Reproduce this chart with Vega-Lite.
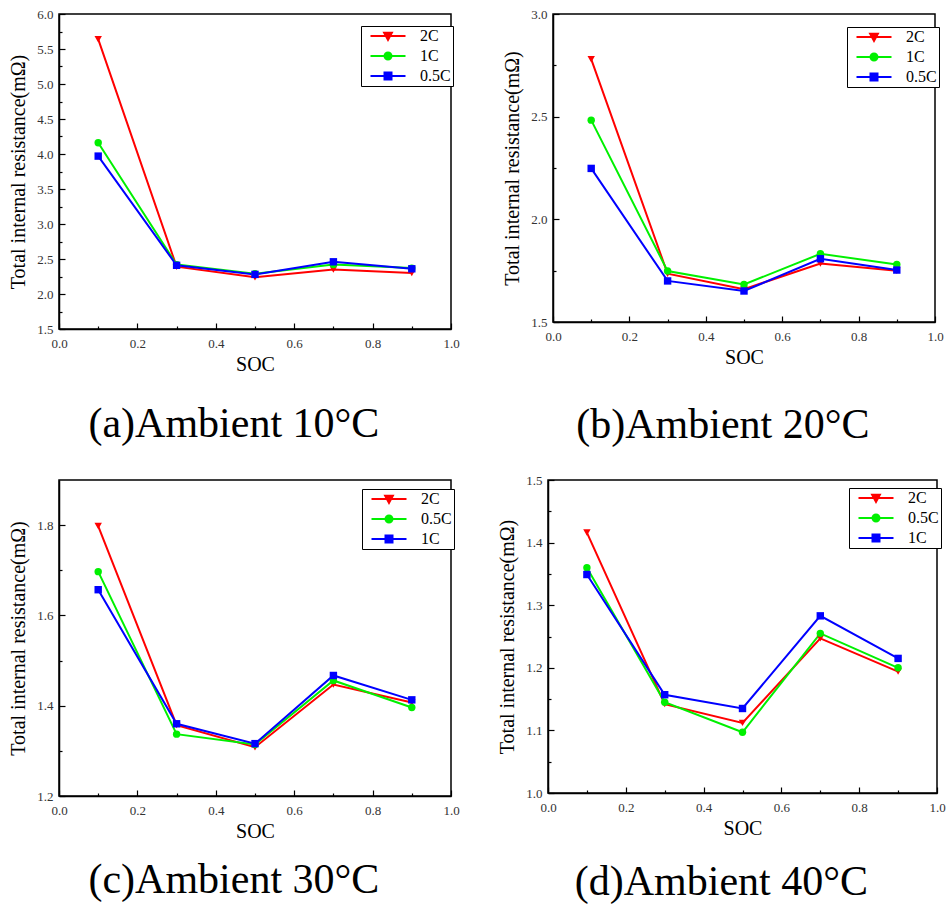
{
  "$schema": "https://vega.github.io/schema/vega-lite/v6.json",
  "padding": {"left": 8, "top": 7, "right": 0, "bottom": 0},
  "background": "white",
  "config": {
    "view": {"stroke": "black", "strokeWidth": 1.5},
    "style": {
      "guide-label": {"font": "Liberation Serif", "fontSize": 13, "fill": "#333333"},
      "guide-title": {"font": "Liberation Serif", "fontSize": 20, "fontWeight": "normal", "fill": "black"}
    },
    "axis": {"grid": false, "domainColor": "black", "domainWidth": 1.5, "tickColor": "black", "tickWidth": 1.2, "labelFont": "Liberation Serif", "labelFontSize": 13, "labelColor": "#333333", "labelFlush": false, "labelOverlap": false, "titleFont": "Liberation Serif", "titleFontSize": 20, "titleFontWeight": "normal", "titleColor": "black"},
    "legend": {"labelFont": "Liberation Serif", "labelFontSize": 16, "labelColor": "black", "symbolSize": 49, "symbolStrokeWidth": 2, "strokeColor": "black", "fillColor": "white", "padding": 2, "rowPadding": 4, "symbolOffset": 17, "labelOffset": 24},
    "title": {"font": "Liberation Serif", "fontSize": 42, "fontWeight": "normal", "color": "black"}
  },
  "data": {"values": [
    {"panel": "a", "rate": "2C", "soc": 0.1, "r": 5.64},
    {"panel": "a", "rate": "2C", "soc": 0.3, "r": 2.39},
    {"panel": "a", "rate": "2C", "soc": 0.5, "r": 2.24},
    {"panel": "a", "rate": "2C", "soc": 0.7, "r": 2.35},
    {"panel": "a", "rate": "2C", "soc": 0.9, "r": 2.30},
    {"panel": "a", "rate": "1C", "soc": 0.1, "r": 4.16},
    {"panel": "a", "rate": "1C", "soc": 0.3, "r": 2.42},
    {"panel": "a", "rate": "1C", "soc": 0.5, "r": 2.29},
    {"panel": "a", "rate": "1C", "soc": 0.7, "r": 2.42},
    {"panel": "a", "rate": "1C", "soc": 0.9, "r": 2.37},
    {"panel": "a", "rate": "0.5C", "soc": 0.1, "r": 3.97},
    {"panel": "a", "rate": "0.5C", "soc": 0.3, "r": 2.41},
    {"panel": "a", "rate": "0.5C", "soc": 0.5, "r": 2.28},
    {"panel": "a", "rate": "0.5C", "soc": 0.7, "r": 2.46},
    {"panel": "a", "rate": "0.5C", "soc": 0.9, "r": 2.36},
    {"panel": "b", "rate": "2C", "soc": 0.1, "r": 2.78},
    {"panel": "b", "rate": "2C", "soc": 0.3, "r": 1.735},
    {"panel": "b", "rate": "2C", "soc": 0.5, "r": 1.66},
    {"panel": "b", "rate": "2C", "soc": 0.7, "r": 1.785},
    {"panel": "b", "rate": "2C", "soc": 0.9, "r": 1.75},
    {"panel": "b", "rate": "1C", "soc": 0.1, "r": 2.483},
    {"panel": "b", "rate": "1C", "soc": 0.3, "r": 1.748},
    {"panel": "b", "rate": "1C", "soc": 0.5, "r": 1.683},
    {"panel": "b", "rate": "1C", "soc": 0.7, "r": 1.832},
    {"panel": "b", "rate": "1C", "soc": 0.9, "r": 1.78},
    {"panel": "b", "rate": "0.5C", "soc": 0.1, "r": 2.248},
    {"panel": "b", "rate": "0.5C", "soc": 0.3, "r": 1.70},
    {"panel": "b", "rate": "0.5C", "soc": 0.5, "r": 1.651},
    {"panel": "b", "rate": "0.5C", "soc": 0.7, "r": 1.808},
    {"panel": "b", "rate": "0.5C", "soc": 0.9, "r": 1.753},
    {"panel": "c", "rate": "2C", "soc": 0.1, "r": 1.798},
    {"panel": "c", "rate": "2C", "soc": 0.3, "r": 1.357},
    {"panel": "c", "rate": "2C", "soc": 0.5, "r": 1.308},
    {"panel": "c", "rate": "2C", "soc": 0.7, "r": 1.447},
    {"panel": "c", "rate": "2C", "soc": 0.9, "r": 1.407},
    {"panel": "c", "rate": "0.5C", "soc": 0.1, "r": 1.697},
    {"panel": "c", "rate": "0.5C", "soc": 0.3, "r": 1.337},
    {"panel": "c", "rate": "0.5C", "soc": 0.5, "r": 1.314},
    {"panel": "c", "rate": "0.5C", "soc": 0.7, "r": 1.456},
    {"panel": "c", "rate": "0.5C", "soc": 0.9, "r": 1.396},
    {"panel": "c", "rate": "1C", "soc": 0.1, "r": 1.657},
    {"panel": "c", "rate": "1C", "soc": 0.3, "r": 1.36},
    {"panel": "c", "rate": "1C", "soc": 0.5, "r": 1.316},
    {"panel": "c", "rate": "1C", "soc": 0.7, "r": 1.467},
    {"panel": "c", "rate": "1C", "soc": 0.9, "r": 1.413},
    {"panel": "d", "rate": "2C", "soc": 0.1, "r": 1.416},
    {"panel": "d", "rate": "2C", "soc": 0.3, "r": 1.142},
    {"panel": "d", "rate": "2C", "soc": 0.5, "r": 1.112},
    {"panel": "d", "rate": "2C", "soc": 0.7, "r": 1.247},
    {"panel": "d", "rate": "2C", "soc": 0.9, "r": 1.194},
    {"panel": "d", "rate": "0.5C", "soc": 0.1, "r": 1.36},
    {"panel": "d", "rate": "0.5C", "soc": 0.3, "r": 1.145},
    {"panel": "d", "rate": "0.5C", "soc": 0.5, "r": 1.097},
    {"panel": "d", "rate": "0.5C", "soc": 0.7, "r": 1.255},
    {"panel": "d", "rate": "0.5C", "soc": 0.9, "r": 1.20},
    {"panel": "d", "rate": "1C", "soc": 0.1, "r": 1.349},
    {"panel": "d", "rate": "1C", "soc": 0.3, "r": 1.157},
    {"panel": "d", "rate": "1C", "soc": 0.5, "r": 1.135},
    {"panel": "d", "rate": "1C", "soc": 0.7, "r": 1.283},
    {"panel": "d", "rate": "1C", "soc": 0.9, "r": 1.215}
  ]},
  "vconcat": [
    {
      "hconcat": [
        {
          "width": 392, "height": 315,
          "title": {"text": "(a)Ambient 10°C", "orient": "bottom", "anchor": "middle", "frame": "bounds", "offset": 30, "font": "Liberation Serif", "fontSize": 42, "fontWeight": "normal", "color": "black"},
          "transform": [{"filter": "datum.panel === 'a'"}],
          "layer": [
            {
              "mark": {"type": "line", "strokeWidth": 2},
              "encoding": {
                "x": {"field": "soc", "type": "quantitative", "scale": {"domain": [0, 1], "nice": false, "zero": false},
                      "axis": {"orient": "bottom", "values": [0, 0.2, 0.4, 0.6, 0.8, 1.0], "format": ".1f", "tickSize": -6, "labelPadding": 14, "title": "SOC", "titlePadding": 4, "labelFont": "Liberation Serif", "labelFontSize": 13, "labelColor": "#333333", "titleFont": "Liberation Serif", "titleFontSize": 20, "titleFontWeight": "normal", "titleColor": "black"}},
                "y": {"field": "r", "type": "quantitative", "scale": {"domain": [1.5, 6.0], "nice": false, "zero": false},
                      "axis": {"orient": "left", "values": [1.5, 2.0, 2.5, 3.0, 3.5, 4.0, 4.5, 5.0, 5.5, 6.0], "format": ".1f", "tickSize": -6, "labelPadding": 12, "title": "Total internal resistance(mΩ)", "titlePadding": 8, "labelFont": "Liberation Serif", "labelFontSize": 13, "labelColor": "#333333", "titleFont": "Liberation Serif", "titleFontSize": 20, "titleFontWeight": "normal", "titleColor": "black"}},
                "color": {"field": "rate", "type": "nominal", "scale": {"domain": ["2C", "1C", "0.5C"], "range": ["#ff0000", "#00f000", "#0000ff"]},
                          "legend": {"title": null, "orient": "none", "legendX": 302, "legendY": 12,
                                     "encode": {"symbols": {"update": {
                                       "shape": {"signal": "{'2C': 'M-5,0H5M-1.1,-0.9H1.1L0,1.1Z', '1C': 'M-5,0H5M1,0A1,1,0,1,1,-1,0A1,1,0,1,1,1,0Z', '0.5C': 'M-5,0H5M-1,-1H1V1H-1Z'}[datum.value]"},
                                       "fill": {"signal": "datum.value === '2C' ? '#ff0000' : datum.value === '1C' ? '#00f000' : '#0000ff'"},
                                       "strokeWidth": {"value": 2}
                                     }}}}}
              }
            },
            {
              "transform": [{"filter": "datum.rate === '2C'"}],
              "mark": {"type": "point", "filled": true, "size": 55, "opacity": 1, "shape": "triangle-down", "color": "#ff0000"},
              "encoding": {
                "x": {"field": "soc", "type": "quantitative", "axis": {"orient": "bottom", "values": [0.1, 0.3, 0.5, 0.7, 0.9], "labels": false, "domain": false, "tickSize": -3, "title": null}},
                "y": {"field": "r", "type": "quantitative", "axis": {"orient": "left", "values": [1.75, 2.25, 2.75, 3.25, 3.75, 4.25, 4.75, 5.25, 5.75], "labels": false, "domain": false, "tickSize": -3, "title": null}}
              }
            },
            {
              "transform": [{"filter": "datum.rate === '1C'"}],
              "mark": {"type": "point", "filled": true, "size": 55, "opacity": 1, "shape": "circle", "color": "#00f000"},
              "encoding": {
                "x": {"field": "soc", "type": "quantitative", "axis": null},
                "y": {"field": "r", "type": "quantitative", "axis": null}
              }
            },
            {
              "transform": [{"filter": "datum.rate === '0.5C'"}],
              "mark": {"type": "point", "filled": true, "size": 55, "opacity": 1, "shape": "square", "color": "#0000ff"},
              "encoding": {
                "x": {"field": "soc", "type": "quantitative", "axis": null},
                "y": {"field": "r", "type": "quantitative", "axis": null}
              }
            }
          ],
          "resolve": {"axis": {"x": "independent", "y": "independent"}}
        },
        {
          "width": 382, "height": 308,
          "title": {"text": "(b)Ambient 20°C", "orient": "bottom", "anchor": "middle", "frame": "bounds", "offset": 38, "font": "Liberation Serif", "fontSize": 42, "fontWeight": "normal", "color": "black"},
          "transform": [{"filter": "datum.panel === 'b'"}],
          "layer": [
            {
              "mark": {"type": "line", "strokeWidth": 2},
              "encoding": {
                "x": {"field": "soc", "type": "quantitative", "scale": {"domain": [0, 1], "nice": false, "zero": false},
                      "axis": {"orient": "bottom", "values": [0, 0.2, 0.4, 0.6, 0.8, 1.0], "format": ".1f", "tickSize": -6, "labelPadding": 14, "title": "SOC", "titlePadding": 4, "labelFont": "Liberation Serif", "labelFontSize": 13, "labelColor": "#333333", "titleFont": "Liberation Serif", "titleFontSize": 20, "titleFontWeight": "normal", "titleColor": "black"}},
                "y": {"field": "r", "type": "quantitative", "scale": {"domain": [1.5, 3.0], "nice": false, "zero": false},
                      "axis": {"orient": "left", "values": [1.5, 2.0, 2.5, 3.0], "format": ".1f", "tickSize": -6, "labelPadding": 12, "title": "Total internal resistance(mΩ)", "titlePadding": 8, "labelFont": "Liberation Serif", "labelFontSize": 13, "labelColor": "#333333", "titleFont": "Liberation Serif", "titleFontSize": 20, "titleFontWeight": "normal", "titleColor": "black"}},
                "color": {"field": "rate", "type": "nominal", "scale": {"domain": ["2C", "1C", "0.5C"], "range": ["#ff0000", "#00f000", "#0000ff"]},
                          "legend": {"title": null, "orient": "none", "legendX": 294, "legendY": 13,
                                     "encode": {"symbols": {"update": {
                                       "shape": {"signal": "{'2C': 'M-5,0H5M-1.1,-0.9H1.1L0,1.1Z', '1C': 'M-5,0H5M1,0A1,1,0,1,1,-1,0A1,1,0,1,1,1,0Z', '0.5C': 'M-5,0H5M-1,-1H1V1H-1Z'}[datum.value]"},
                                       "fill": {"signal": "datum.value === '2C' ? '#ff0000' : datum.value === '1C' ? '#00f000' : '#0000ff'"},
                                       "strokeWidth": {"value": 2}
                                     }}}}}
              }
            },
            {
              "transform": [{"filter": "datum.rate === '2C'"}],
              "mark": {"type": "point", "filled": true, "size": 55, "opacity": 1, "shape": "triangle-down", "color": "#ff0000"},
              "encoding": {
                "x": {"field": "soc", "type": "quantitative", "axis": {"orient": "bottom", "values": [0.1, 0.3, 0.5, 0.7, 0.9], "labels": false, "domain": false, "tickSize": -3, "title": null}},
                "y": {"field": "r", "type": "quantitative", "axis": {"orient": "left", "values": [1.75, 2.25, 2.75], "labels": false, "domain": false, "tickSize": -3, "title": null}}
              }
            },
            {
              "transform": [{"filter": "datum.rate === '1C'"}],
              "mark": {"type": "point", "filled": true, "size": 55, "opacity": 1, "shape": "circle", "color": "#00f000"},
              "encoding": {
                "x": {"field": "soc", "type": "quantitative", "axis": null},
                "y": {"field": "r", "type": "quantitative", "axis": null}
              }
            },
            {
              "transform": [{"filter": "datum.rate === '0.5C'"}],
              "mark": {"type": "point", "filled": true, "size": 55, "opacity": 1, "shape": "square", "color": "#0000ff"},
              "encoding": {
                "x": {"field": "soc", "type": "quantitative", "axis": null},
                "y": {"field": "r", "type": "quantitative", "axis": null}
              }
            }
          ],
          "resolve": {"axis": {"x": "independent", "y": "independent"}}
        }
      ],
      "spacing": 42,
      "resolve": {"scale": {"color": "independent"}}
    },
    {
      "hconcat": [
        {
          "width": 392, "height": 316,
          "title": {"text": "(c)Ambient 30°C", "orient": "bottom", "anchor": "middle", "frame": "bounds", "offset": 19, "font": "Liberation Serif", "fontSize": 42, "fontWeight": "normal", "color": "black"},
          "transform": [{"filter": "datum.panel === 'c'"}],
          "layer": [
            {
              "mark": {"type": "line", "strokeWidth": 2},
              "encoding": {
                "x": {"field": "soc", "type": "quantitative", "scale": {"domain": [0, 1], "nice": false, "zero": false},
                      "axis": {"orient": "bottom", "values": [0, 0.2, 0.4, 0.6, 0.8, 1.0], "format": ".1f", "tickSize": -6, "labelPadding": 14, "title": "SOC", "titlePadding": 4, "labelFont": "Liberation Serif", "labelFontSize": 13, "labelColor": "#333333", "titleFont": "Liberation Serif", "titleFontSize": 20, "titleFontWeight": "normal", "titleColor": "black"}},
                "y": {"field": "r", "type": "quantitative", "scale": {"domain": [1.2, 1.9], "nice": false, "zero": false},
                      "axis": {"orient": "left", "values": [1.2, 1.4, 1.6, 1.8], "format": ".1f", "tickSize": -6, "labelPadding": 12, "title": "Total internal resistance(mΩ)", "titlePadding": 8, "labelFont": "Liberation Serif", "labelFontSize": 13, "labelColor": "#333333", "titleFont": "Liberation Serif", "titleFontSize": 20, "titleFontWeight": "normal", "titleColor": "black"}},
                "color": {"field": "rate", "type": "nominal", "scale": {"domain": ["2C", "0.5C", "1C"], "range": ["#ff0000", "#00f000", "#0000ff"]},
                          "legend": {"title": null, "orient": "none", "legendX": 303, "legendY": 9,
                                     "encode": {"symbols": {"update": {
                                       "shape": {"signal": "{'2C': 'M-5,0H5M-1.1,-0.9H1.1L0,1.1Z', '0.5C': 'M-5,0H5M1,0A1,1,0,1,1,-1,0A1,1,0,1,1,1,0Z', '1C': 'M-5,0H5M-1,-1H1V1H-1Z'}[datum.value]"},
                                       "fill": {"signal": "datum.value === '2C' ? '#ff0000' : datum.value === '0.5C' ? '#00f000' : '#0000ff'"},
                                       "strokeWidth": {"value": 2}
                                     }}}}}
              }
            },
            {
              "transform": [{"filter": "datum.rate === '2C'"}],
              "mark": {"type": "point", "filled": true, "size": 55, "opacity": 1, "shape": "triangle-down", "color": "#ff0000"},
              "encoding": {
                "x": {"field": "soc", "type": "quantitative", "axis": {"orient": "bottom", "values": [0.1, 0.3, 0.5, 0.7, 0.9], "labels": false, "domain": false, "tickSize": -3, "title": null}},
                "y": {"field": "r", "type": "quantitative", "axis": {"orient": "left", "values": [1.3, 1.5, 1.7], "labels": false, "domain": false, "tickSize": -3, "title": null}}
              }
            },
            {
              "transform": [{"filter": "datum.rate === '0.5C'"}],
              "mark": {"type": "point", "filled": true, "size": 55, "opacity": 1, "shape": "circle", "color": "#00f000"},
              "encoding": {
                "x": {"field": "soc", "type": "quantitative", "axis": null},
                "y": {"field": "r", "type": "quantitative", "axis": null}
              }
            },
            {
              "transform": [{"filter": "datum.rate === '1C'"}],
              "mark": {"type": "point", "filled": true, "size": 55, "opacity": 1, "shape": "square", "color": "#0000ff"},
              "encoding": {
                "x": {"field": "soc", "type": "quantitative", "axis": null},
                "y": {"field": "r", "type": "quantitative", "axis": null}
              }
            }
          ],
          "resolve": {"axis": {"x": "independent", "y": "independent"}}
        },
        {
          "width": 389, "height": 313,
          "title": {"text": "(d)Ambient 40°C", "orient": "bottom", "anchor": "middle", "frame": "bounds", "offset": 24, "font": "Liberation Serif", "fontSize": 42, "fontWeight": "normal", "color": "black"},
          "transform": [{"filter": "datum.panel === 'd'"}],
          "layer": [
            {
              "mark": {"type": "line", "strokeWidth": 2},
              "encoding": {
                "x": {"field": "soc", "type": "quantitative", "scale": {"domain": [0, 1], "nice": false, "zero": false},
                      "axis": {"orient": "bottom", "values": [0, 0.2, 0.4, 0.6, 0.8, 1.0], "format": ".1f", "tickSize": -6, "labelPadding": 14, "title": "SOC", "titlePadding": 4, "labelFont": "Liberation Serif", "labelFontSize": 13, "labelColor": "#333333", "titleFont": "Liberation Serif", "titleFontSize": 20, "titleFontWeight": "normal", "titleColor": "black"}},
                "y": {"field": "r", "type": "quantitative", "scale": {"domain": [1.0, 1.5], "nice": false, "zero": false},
                      "axis": {"orient": "left", "values": [1.0, 1.1, 1.2, 1.3, 1.4, 1.5], "format": ".1f", "tickSize": -6, "labelPadding": 12, "title": "Total internal resistance(mΩ)", "titlePadding": 8, "labelFont": "Liberation Serif", "labelFontSize": 13, "labelColor": "#333333", "titleFont": "Liberation Serif", "titleFontSize": 20, "titleFontWeight": "normal", "titleColor": "black"}},
                "color": {"field": "rate", "type": "nominal", "scale": {"domain": ["2C", "0.5C", "1C"], "range": ["#ff0000", "#00f000", "#0000ff"]},
                          "legend": {"title": null, "orient": "none", "legendX": 301, "legendY": 8,
                                     "encode": {"symbols": {"update": {
                                       "shape": {"signal": "{'2C': 'M-5,0H5M-1.1,-0.9H1.1L0,1.1Z', '0.5C': 'M-5,0H5M1,0A1,1,0,1,1,-1,0A1,1,0,1,1,1,0Z', '1C': 'M-5,0H5M-1,-1H1V1H-1Z'}[datum.value]"},
                                       "fill": {"signal": "datum.value === '2C' ? '#ff0000' : datum.value === '0.5C' ? '#00f000' : '#0000ff'"},
                                       "strokeWidth": {"value": 2}
                                     }}}}}
              }
            },
            {
              "transform": [{"filter": "datum.rate === '2C'"}],
              "mark": {"type": "point", "filled": true, "size": 55, "opacity": 1, "shape": "triangle-down", "color": "#ff0000"},
              "encoding": {
                "x": {"field": "soc", "type": "quantitative", "axis": {"orient": "bottom", "values": [0.1, 0.3, 0.5, 0.7, 0.9], "labels": false, "domain": false, "tickSize": -3, "title": null}},
                "y": {"field": "r", "type": "quantitative", "axis": {"orient": "left", "values": [1.05, 1.15, 1.25, 1.35, 1.45], "labels": false, "domain": false, "tickSize": -3, "title": null}}
              }
            },
            {
              "transform": [{"filter": "datum.rate === '0.5C'"}],
              "mark": {"type": "point", "filled": true, "size": 55, "opacity": 1, "shape": "circle", "color": "#00f000"},
              "encoding": {
                "x": {"field": "soc", "type": "quantitative", "axis": null},
                "y": {"field": "r", "type": "quantitative", "axis": null}
              }
            },
            {
              "transform": [{"filter": "datum.rate === '1C'"}],
              "mark": {"type": "point", "filled": true, "size": 55, "opacity": 1, "shape": "square", "color": "#0000ff"},
              "encoding": {
                "x": {"field": "soc", "type": "quantitative", "axis": null},
                "y": {"field": "r", "type": "quantitative", "axis": null}
              }
            }
          ],
          "resolve": {"axis": {"x": "independent", "y": "independent"}}
        }
      ],
      "spacing": 37,
      "resolve": {"scale": {"color": "independent"}}
    }
  ],
  "spacing": 26,
  "resolve": {"scale": {"color": "independent"}}
}
